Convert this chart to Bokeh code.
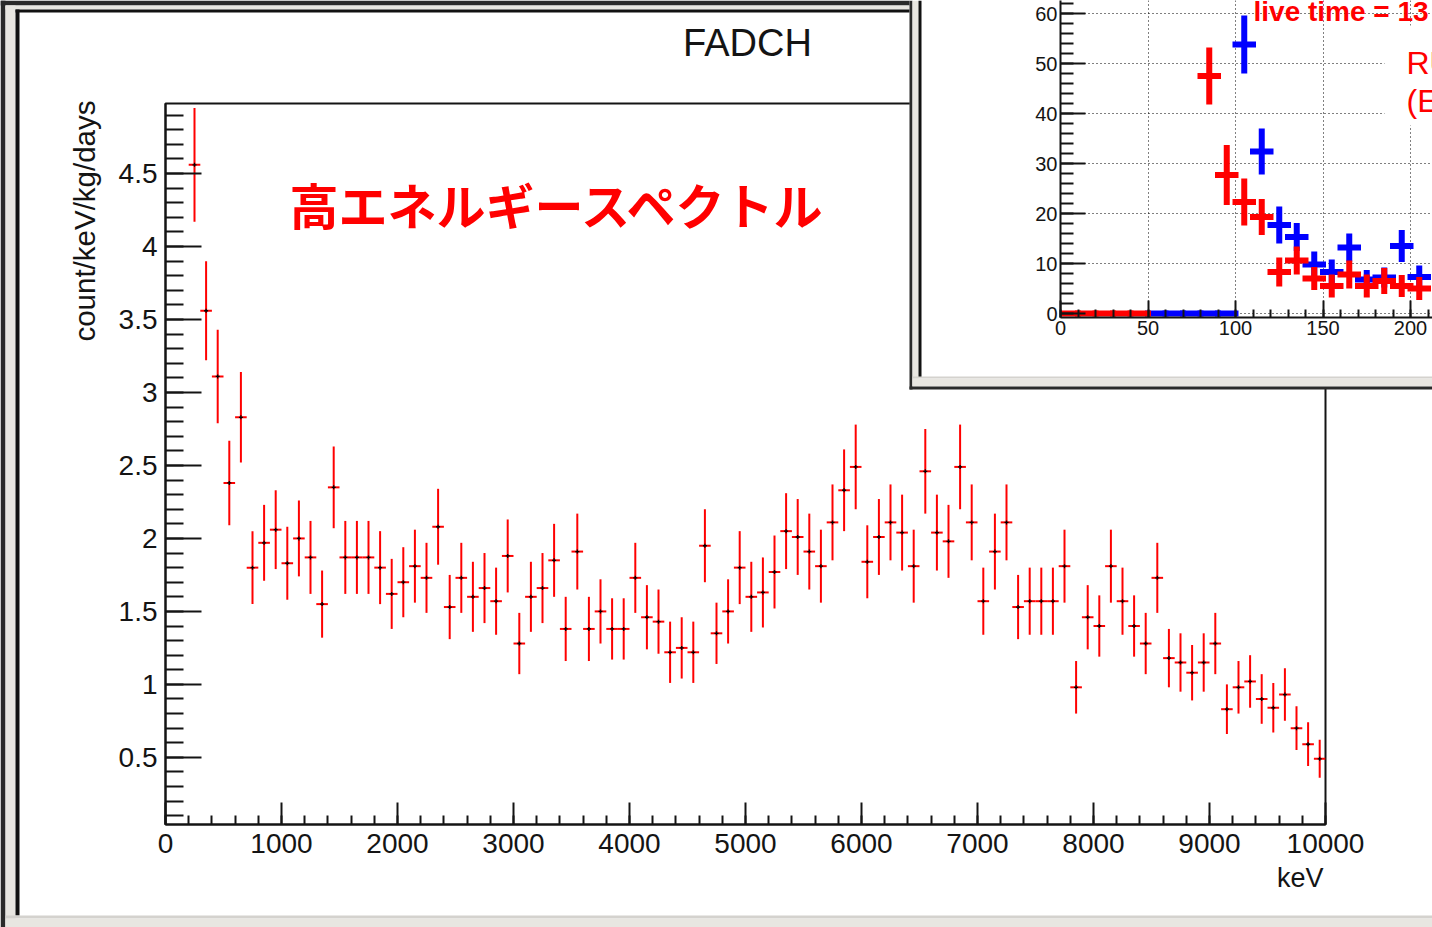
import math

from bokeh.embed import file_html
from bokeh.models import (ColumnDataSource, GridBox, Label,
                          NumeralTickFormatter, Range1d, SingleIntervalTicker)
from bokeh.plotting import figure
from bokeh.resources import INLINE

# ---------------------------------------------------------------------------
# High-energy spectrum (100 keV bins): bin centre, rate and its error
# ---------------------------------------------------------------------------
energy_kev = [
    250, 350, 450, 550, 650, 750, 850, 950, 1050, 1150,
    1250, 1350, 1450, 1550, 1650, 1750, 1850, 1950, 2050, 2150,
    2250, 2350, 2450, 2550, 2650, 2750, 2850, 2950, 3050, 3150,
    3250, 3350, 3450, 3550, 3650, 3750, 3850, 3950, 4050, 4150,
    4250, 4350, 4450, 4550, 4650, 4750, 4850, 4950, 5050, 5150,
    5250, 5350, 5450, 5550, 5650, 5750, 5850, 5950, 6050, 6150,
    6250, 6350, 6450, 6550, 6650, 6750, 6850, 6950, 7050, 7150,
    7250, 7350, 7450, 7550, 7650, 7750, 7850, 7950, 8050, 8150,
    8250, 8350, 8450, 8550, 8650, 8750, 8850, 8950, 9050, 9150,
    9250, 9350, 9450, 9550, 9650, 9750, 9850, 9950,
]
rate = [
    4.56, 3.56, 3.11, 2.38, 2.83, 1.80, 1.97, 2.06, 1.83, 2.00,
    1.87, 1.55, 2.35, 1.87, 1.87, 1.87, 1.80, 1.62, 1.70, 1.81,
    1.73, 2.08, 1.53, 1.73, 1.60, 1.66, 1.57, 1.88, 1.28, 1.60,
    1.66, 1.85, 1.38, 1.91, 1.38, 1.50, 1.38, 1.38, 1.73, 1.46,
    1.43, 1.22, 1.25, 1.22, 1.95, 1.35, 1.50, 1.80, 1.60, 1.63,
    1.77, 2.05, 2.01, 1.91, 1.81, 2.11, 2.33, 2.49, 1.84, 2.01,
    2.11, 2.04, 1.81, 2.46, 2.04, 1.98, 2.49, 2.11, 1.57, 1.91,
    2.11, 1.53, 1.57, 1.57, 1.57, 1.81, 0.98, 1.46, 1.40, 1.81,
    1.57, 1.40, 1.28, 1.73, 1.18, 1.15, 1.08, 1.15, 1.28, 0.83,
    0.98, 1.02, 0.90, 0.84, 0.93, 0.70, 0.59, 0.49,
]
rate_err = [
    0.39, 0.34, 0.32, 0.29, 0.31, 0.25, 0.26, 0.27, 0.25, 0.26,
    0.25, 0.23, 0.28, 0.25, 0.25, 0.25, 0.25, 0.24, 0.24, 0.25,
    0.24, 0.26, 0.22, 0.24, 0.24, 0.24, 0.23, 0.25, 0.21, 0.24,
    0.24, 0.25, 0.22, 0.26, 0.22, 0.22, 0.21, 0.21, 0.24, 0.22,
    0.22, 0.21, 0.21, 0.21, 0.25, 0.21, 0.22, 0.25, 0.24, 0.24,
    0.25, 0.26, 0.26, 0.26, 0.25, 0.26, 0.28, 0.29, 0.25, 0.26,
    0.26, 0.26, 0.25, 0.29, 0.26, 0.25, 0.29, 0.26, 0.23, 0.26,
    0.26, 0.22, 0.23, 0.23, 0.23, 0.25, 0.18, 0.22, 0.21, 0.25,
    0.23, 0.21, 0.21, 0.24, 0.20, 0.20, 0.19, 0.20, 0.21, 0.17,
    0.18, 0.18, 0.17, 0.17, 0.18, 0.15, 0.15, 0.13,
]
BIN_WIDTH_KEV = 100

# ---------------------------------------------------------------------------
# Low-energy comparison histogram (10-unit bins), two runs
# ---------------------------------------------------------------------------
low_red_x = [5, 15, 25, 35, 45, 85, 95, 105, 115, 125, 135, 145, 155, 165, 175, 185, 195, 205]
low_red_y = [0, 0, 0, 0, 0, 47.5, 27.7, 22.3, 19.3, 8.3, 10.6, 7.0, 5.5, 7.8, 5.5, 6.5, 5.5, 5.0]
low_red_err = [0, 0, 0, 0, 0, 5.7, 6.0, 4.7, 3.6, 2.9, 2.8, 2.3, 2.3, 2.8, 2.3, 2.6, 2.2, 2.3]

low_blue_x = [55, 65, 75, 85, 95, 105, 115, 125, 135, 145, 155, 165, 175, 185, 195, 205]
low_blue_y = [0, 0, 0, 0, 0, 53.8, 32.4, 17.7, 15.3, 9.8, 8.3, 13.2, 6.8, 7.2, 13.5, 7.3]
low_blue_err = [0, 0, 0, 0, 0, 5.8, 4.6, 3.7, 2.8, 2.6, 2.5, 2.8, 1.9, 2.0, 3.2, 2.3]
LOW_BIN_WIDTH = 10

# ---------------------------------------------------------------------------
# Page geometry
# ---------------------------------------------------------------------------
W, H = 1432, 927
FL, FR, FT, FB = 165, 1325, 103, 824          # main plot frame (px)
X0, X1 = 0, 10000
Y0, Y1 = 0.04, 4.98

DARK = "#2a2a2a"
PANEL_GREY = "#E8E6E1"
EDGE_GREY = "#D4D2CE"
INK = "#141414"
RED = "#FF0000"
BLUE = "#0000FF"
FONT = "Liberation Sans"


def style_axes(fig, font_px):
    for ax in (fig.xaxis, fig.yaxis):
        ax.major_tick_out = 0
        ax.minor_tick_out = 0
        ax.axis_line_color = INK
        ax.axis_line_width = 2
        ax.major_tick_line_color = INK
        ax.major_tick_line_width = 2
        ax.minor_tick_line_color = INK
        ax.minor_tick_line_width = 2
        ax.major_label_text_font = FONT
        ax.major_label_text_font_size = f"{font_px}px"
        ax.major_label_text_color = INK


# ---------------------------------------------------------------------------
# Main spectrum
# ---------------------------------------------------------------------------
p = figure(
    width=W, height=H,
    x_range=Range1d(X0, X1), y_range=Range1d(Y0, Y1),
    output_backend="svg", toolbar_location=None,
    min_border_left=FL, min_border_right=W - FR,
    min_border_top=FT, min_border_bottom=H - FB,
)
p.frame_align = False
p.background_fill_color = "white"
p.border_fill_color = "white"
p.outline_line_color = INK
p.outline_line_width = 2
p.xgrid.visible = False
p.ygrid.visible = False

p.xaxis.ticker = SingleIntervalTicker(interval=1000, num_minor_ticks=5)
p.xaxis.formatter = NumeralTickFormatter(format="0")
p.xaxis.major_tick_in = 22
p.xaxis.minor_tick_in = 9
p.xaxis.major_label_standoff = 9

p.yaxis.ticker = SingleIntervalTicker(interval=0.5, num_minor_ticks=5)
p.yaxis.formatter = NumeralTickFormatter(format="0.[0]")
p.yaxis.major_tick_in = 36
p.yaxis.minor_tick_in = 18
p.yaxis.major_label_standoff = 8
style_axes(p, 28)

half = BIN_WIDTH_KEV / 2
src = ColumnDataSource(dict(
    x=energy_kev,
    y=rate,
    lo=[v - e for v, e in zip(rate, rate_err)],
    hi=[v + e for v, e in zip(rate, rate_err)],
    left=[c - half for c in energy_kev],
    right=[c + half for c in energy_kev],
))
p.segment(x0="x", y0="lo", x1="x", y1="hi", source=src,
          line_color=RED, line_width=2)
p.segment(x0="left", y0="y", x1="right", y1="y", source=src,
          line_color=RED, line_width=2)
p.scatter(x="x", y="y", source=src, marker="cross", size=4,
          line_color="black", line_width=1.3)

p.add_layout(Label(x=X0 + (289 - FL) * (X1 - X0) / (FR - FL),
                   y=Y0 + (FB - 203) * (Y1 - Y0) / (FB - FT),
                   text="高エネルギースペクトル",
                   text_align="left", text_baseline="middle",
                   text_font="Noto Sans CJK JP", text_font_style="bold",
                   text_font_size="49px", text_color=RED))

# ---------------------------------------------------------------------------
# Inset: low-energy comparison
# ---------------------------------------------------------------------------
IX, IW, IH = 909, W - 909, 389            # inset position / size on the page
AX_X, AX_Y = 1060, 313                    # origin of the inset axes (page px)
PX_PER_X, PX_PER_Y = 1.75, 5.0
Y_LOW = -0.8                              # a little room below zero for the bars


def ix(px):
    return (px - AX_X) / PX_PER_X


def iy(py):
    return (AX_Y - py) / PX_PER_Y


frame_bottom = AX_Y - Y_LOW * PX_PER_Y
q = figure(
    width=IW, height=IH,
    x_range=Range1d(0, ix(W)), y_range=Range1d(Y_LOW, iy(0)),
    output_backend="svg", toolbar_location=None,
    min_border_left=AX_X - IX, min_border_right=0,
    min_border_top=0, min_border_bottom=int(round(IH - frame_bottom)),
)
q.frame_align = False
q.margin = (0, 0, 0, IX)
q.background_fill_color = "white"
q.border_fill_color = "white"
q.outline_line_color = None

q.xaxis.ticker = SingleIntervalTicker(interval=50, num_minor_ticks=5)
q.yaxis.ticker = SingleIntervalTicker(interval=10, num_minor_ticks=5)
q.xaxis.formatter = NumeralTickFormatter(format="0")
q.yaxis.formatter = NumeralTickFormatter(format="0")
q.xaxis.major_tick_in = 17
q.xaxis.minor_tick_in = 8
q.yaxis.major_tick_in = 25
q.yaxis.minor_tick_in = 13
q.xaxis.major_label_standoff = 3
q.yaxis.major_label_standoff = 3
style_axes(q, 20)

for g in (q.xgrid, q.ygrid):
    g.grid_line_color = "black"
    g.grid_line_width = 1
    g.grid_line_dash = "1 3"

lhalf = LOW_BIN_WIDTH / 2
for xs, ys, es, col in [(low_blue_x, low_blue_y, low_blue_err, BLUE),
                        (low_red_x, low_red_y, low_red_err, RED)]:
    s = ColumnDataSource(dict(
        x=xs, y=ys,
        lo=[v - e for v, e in zip(ys, es)],
        hi=[v + e for v, e in zip(ys, es)],
        left=[c - lhalf for c in xs],
        right=[c + lhalf for c in xs],
    ))
    q.segment(x0="x", y0="lo", x1="x", y1="hi", source=s,
              line_color=col, line_width=6, line_cap="butt")
    q.segment(x0="left", y0="y", x1="right", y1="y", source=s,
              line_color=col, line_width=6, line_cap="square")

# white pave behind the run description
q.quad(left=[ix(1384)], right=[ix(W + 20)], top=[iy(25)], bottom=[iy(125)],
       fill_color="white", line_color=None)

q.add_layout(Label(x=ix(1253), y=iy(10.5), text="live time = 13",
                   text_align="left", text_baseline="middle",
                   text_font=FONT, text_font_style="bold",
                   text_font_size="28px", text_color=RED))
q.add_layout(Label(x=ix(1406), y=iy(62), text="RU", text_align="left",
                   text_baseline="middle", text_font=FONT,
                   text_font_size="32px", text_color=RED))
q.add_layout(Label(x=ix(1406), y=iy(100), text="(E", text_align="left",
                   text_baseline="middle", text_font=FONT,
                   text_font_size="32px", text_color=RED))

# ---------------------------------------------------------------------------
# Window decoration and titles, drawn in page pixels on a transparent layer
# ---------------------------------------------------------------------------
deco = figure(
    width=W, height=H,
    x_range=Range1d(0, W), y_range=Range1d(H, 0),
    output_backend="svg", toolbar_location=None,
    x_axis_location=None, y_axis_location=None,
    min_border=0,
)
deco.frame_align = False
deco.grid.visible = False
deco.outline_line_color = None
deco.background_fill_alpha = 0
deco.border_fill_alpha = 0

bands = [
    # main canvas
    (0, IX, 0, 5, DARK),
    (0, 5, 0, H, DARK),
    (5, IX, 5, 9, PANEL_GREY),
    (5, 15, 5, H, PANEL_GREY),
    (15, IX, 9, 12, "#111111"),
    (15, 19, 9, 915, "#111111"),
    (5, W, 915, 918, EDGE_GREY),
    (5, W, 918, H, PANEL_GREY),
    # inset canvas
    (IX, IX + 3, 0, IH, DARK),
    (IX + 3, IX + 9, 0, IH - 3, PANEL_GREY),
    (IX + 9, IX + 12, 0, 377, "#111111"),
    (IX + 3, W, 376, 378, EDGE_GREY),
    (IX + 3, W, 378, IH - 3, PANEL_GREY),
    (IX, W, IH - 3, IH, DARK),
]
deco.quad(left=[b[0] for b in bands], right=[b[1] for b in bands],
          top=[b[2] for b in bands], bottom=[b[3] for b in bands],
          fill_color=[b[4] for b in bands], line_color=None)

deco.add_layout(Label(x=747, y=42, text="FADCH", text_align="center",
                      text_baseline="middle", text_font=FONT,
                      text_font_size="38px", text_color=INK))
deco.add_layout(Label(x=84, y=100, text="count/keV/kg/days",
                      angle=math.pi / 2, text_align="right",
                      text_baseline="middle", text_font=FONT,
                      text_font_size="29.5px", text_color=INK))
deco.add_layout(Label(x=1323, y=877, text="keV", text_align="right",
                      text_baseline="middle", text_font=FONT,
                      text_font_size="27px", text_color=INK))

page = GridBox(children=[(p, 0, 0), (q, 0, 0), (deco, 0, 0)])

open("out.html", "w").write(file_html(page, INLINE))
